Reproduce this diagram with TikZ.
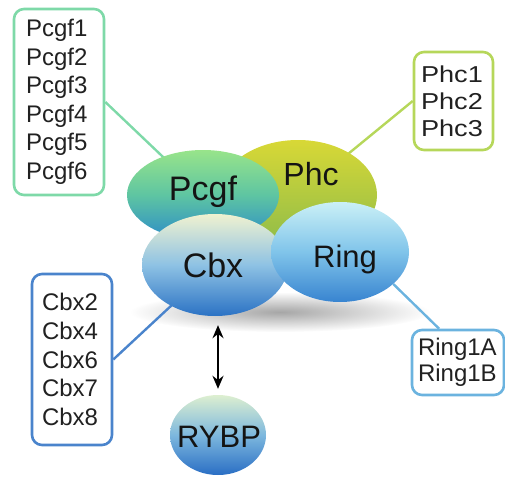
\documentclass[tikz,border=0pt]{standalone}
\usepackage{fontspec}
\setmainfont{Liberation Sans}
\usetikzlibrary{shapes.geometric,arrows.meta,fadings,calc}
\pgfdeclarelayer{back}
\pgfsetlayers{back,main}

% fill gradients of the complexes
\definecolor{pcgfTop}{HTML}{98E48A}
\definecolor{pcgfMid}{HTML}{5EC5A2}
\definecolor{pcgfBot}{HTML}{2C8CC8}
\definecolor{phcTop}{HTML}{D8D836}
\definecolor{phcBot}{HTML}{8CBB4A}
\definecolor{cbxTop}{HTML}{F0F2D0}
\definecolor{cbxMid}{HTML}{8EC2E4}
\definecolor{cbxBot}{HTML}{2B72C4}
\definecolor{ringTop}{HTML}{CAF0F6}
\definecolor{ringMid}{HTML}{80C4EA}
\definecolor{ringBot}{HTML}{3884D0}
\definecolor{rybpTop}{HTML}{DDEFD0}
\definecolor{rybpMid}{HTML}{7DB8DE}
\definecolor{rybpBot}{HTML}{2A6EC4}
% outline colours of the member lists
\definecolor{pcgfLine}{HTML}{7ED9A8}
\definecolor{phcLine}{HTML}{B6D75A}
\definecolor{cbxLine}{HTML}{4A84CC}
\definecolor{ringLine}{HTML}{6BB3DF}

% radial fade for the soft shadow
\tikzfading[name=softspot, inner color=transparent!0, outer color=transparent!100]

\tikzset{
  blob/.style={ellipse, draw=none, inner sep=0pt},
  blobname/.style={anchor=base, inner sep=0pt, text=black!92},
  listbox/.style={draw, line width=2.6pt, rounded corners=10pt, fill=white,
    align=left, inner ysep=0pt, text=black!87},
  link/.style={line width=2.4pt},
  twoway/.style={line width=2pt, black,
    {Stealth[length=13pt,width=11pt]}-{Stealth[length=13pt,width=11pt]},
    shorten <=9pt, shorten >=6pt},
}

\begin{document}
\begin{tikzpicture}[x=1pt,y=-1pt]
\useasboundingbox (0,0) rectangle (505,476);

% complexes (later ones lie on top)
\node[blob, minimum width=158pt, minimum height=110pt,
      top color=phcTop, bottom color=phcBot] (phc) at (298,195) {};
\node[blob, minimum width=152pt, minimum height=90pt,
      top color=pcgfTop, bottom color=pcgfBot, middle color=pcgfMid] (pcgf) at (203,195) {};
\node[blob, minimum width=146pt, minimum height=102pt,
      top color=cbxTop, bottom color=cbxBot, middle color=cbxMid] (cbx) at (215,265) {};
\node[blob, minimum width=138pt, minimum height=100pt,
      top color=ringTop, bottom color=ringBot, middle color=ringMid] (ring) at (340,252) {};
\node[blob, minimum width=96pt, minimum height=80pt,
      top color=rybpTop, bottom color=rybpBot, middle color=rybpMid] (rybp) at (218,435) {};

\node[blobname, font=\fontsize{34}{34}\selectfont] (pcgfname) at (203,200) {Pcgf};
\node[blobname, font=\fontsize{32}{32}\selectfont] (phcname) at (311,185) {Phc};
\node[blobname, font=\fontsize{34}{34}\selectfont] (cbxname) at (213,277) {Cbx};
\node[blobname, font=\fontsize{31}{31}\selectfont] (ringname) at (345,267) {Ring};
\node[blobname, font=\fontsize{31}{31}\selectfont] (rybpname) at (219,447) {RYBP};

% member lists
\node[listbox, draw=pcgfLine, font=\fontsize{24}{28.5}\selectfont,
      minimum width=90pt, minimum height=186pt, text width=66pt, inner xsep=12pt]
      (pcgfbox) at (59,102) {Pcgf1\\Pcgf2\\Pcgf3\\Pcgf4\\Pcgf5\\Pcgf6};
\node[listbox, draw=phcLine, font=\fontsize{23}{27}\selectfont\addfontfeature{FakeStretch=1.18},
      minimum width=79pt, minimum height=98pt, text width=65pt, inner xsep=7pt]
      (phcbox) at (453.5,101) {Phc1\\Phc2\\Phc3};
\node[listbox, draw=cbxLine, font=\fontsize{24}{28.7}\selectfont,
      minimum width=80pt, minimum height=171pt, text width=60pt, inner xsep=10pt]
      (cbxbox) at (72,359.5) {Cbx2\\Cbx4\\Cbx6\\Cbx7\\Cbx8};
\node[listbox, draw=ringLine, font=\fontsize{24}{26}\selectfont,
      minimum width=92pt, minimum height=65pt, text width=80pt, inner xsep=6pt]
      (ringbox) at (458,362.5) {Ring1A\\Ring1B};

\coordinate (ringjoin) at ($(ringbox.north west)!0.3!(ringbox.north east)$);

% soft shadow and connectors behind the complexes
\begin{pgfonlayer}{back}
  \fill[black, opacity=0.35, path fading=softspot]
    (280,312) ellipse [x radius=150pt, y radius=20pt];
  \draw[link, pcgfLine] (pcgfbox.east) -- (pcgf.center);
  \draw[link, phcLine] (phcbox.west) -- (phc.center);
  \draw[link, cbxLine] (cbxbox.east) -- (cbx.center);
  \draw[link, ringLine] (ringjoin) -- (ring.-31);
\end{pgfonlayer}

% binding of RYBP
\draw[twoway] (rybp.north |- cbx.south) -- (rybp.north);
\end{tikzpicture}
\end{document}
